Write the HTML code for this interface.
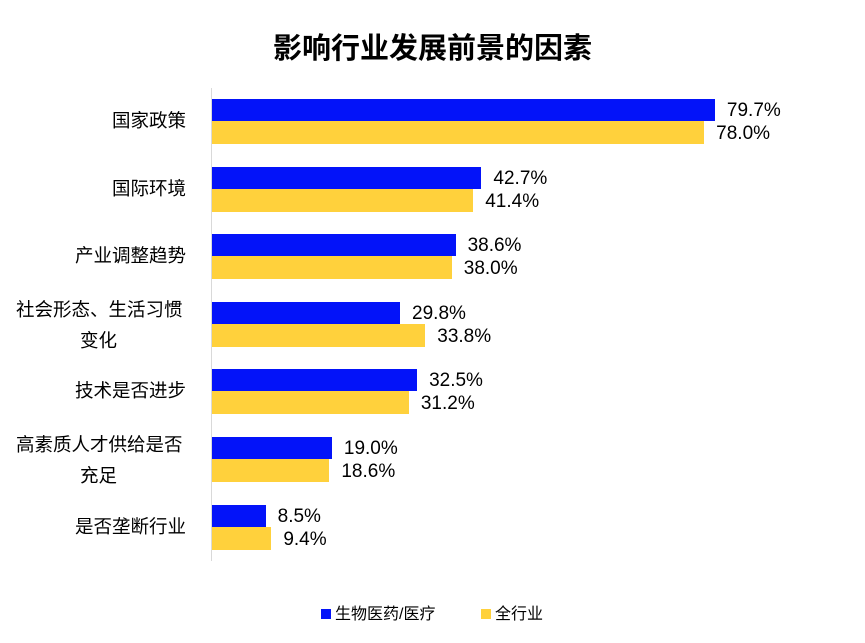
<!DOCTYPE html><html><head><meta charset="utf-8"><style>
body{margin:0;width:865px;height:643px;background:#fff;position:relative;font-family:"Liberation Sans","Noto Sans CJK SC",sans-serif;overflow:hidden}
.t{position:absolute;left:0;width:865px;top:25px;text-align:center;font-size:29px;font-weight:bold;color:#000}
.ax{position:absolute;left:211px;top:88px;width:1px;height:473px;background:#d9d9d9}
.b{position:absolute;left:212px;height:22px;background:#0313f9}
.y{position:absolute;left:212px;height:23px;background:#ffd13c}
.v{position:absolute;font-size:19px;color:#000;line-height:22px}
.c{position:absolute;right:679px;font-size:18.5px;color:#000;text-align:right;line-height:31px;width:200px;white-space:nowrap}
.lg{position:absolute;top:600px;font-size:16px}
</style></head><body>
<div class="t">影响行业发展前景的因素</div>
<div class="ax"></div>
<div id="d"></div>
<div class="lg" style="left:321px"><span style="display:inline-block;width:10px;height:10px;background:#0313f9;margin-right:4px"></span>生物医药/医疗</div>
<div class="lg" style="left:481px"><span style="display:inline-block;width:10px;height:10px;background:#ffd13c;margin-right:4px"></span>全行业</div>
<script>
var D=[["国家政策",79.7,78.0],["国际环境",42.7,41.4],["产业调整趋势",38.6,38.0],["社会形态、生活习惯<br>变化",29.8,33.8],["技术是否进步",32.5,31.2],["高素质人才供给是否<br>充足",19.0,18.6],["是否垄断行业",8.5,9.4]];
var h="",s=6.31;
D.forEach(function(d,i){var t=99+i*67.6;
h+='<div class="b" style="top:'+t+'px;width:'+(d[1]*s)+'px"></div>';
h+='<div class="y" style="top:'+(t+22)+'px;width:'+(d[2]*s)+'px"></div>';
h+='<div class="v" style="top:'+(t+1)+'px;left:'+(212+d[1]*s+12)+'px">'+d[1].toFixed(1)+'%</div>';
h+='<div class="v" style="top:'+(t+24)+'px;left:'+(212+d[2]*s+12)+'px">'+d[2].toFixed(1)+'%</div>';
var two=d[0].indexOf("<br>")>0;
h+='<div class="c" style="top:'+(two?t-8:t+6)+'px;'+(two?'text-align:left;left:16px;right:auto;width:190px;':'')+'">'+(two?d[0].replace("<br>",'<br><span style="padding-left:64px"></span>'):d[0])+'</div>';});
document.getElementById("d").innerHTML=h;
</script>
</body></html>
